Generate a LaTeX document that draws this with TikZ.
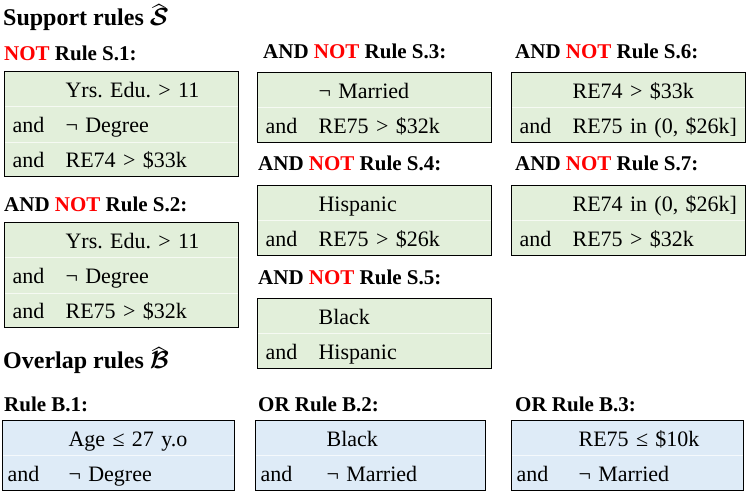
\documentclass[tikz,border=0pt]{standalone}
\usepackage{fontspec}
\setmainfont{Liberation Serif}
\usepackage{amsmath}
\usepackage{array}
\usetikzlibrary{calc}
\definecolor{rulegreen}{HTML}{E2EFDA}
\definecolor{ruleblue}{HTML}{DEEBF7}
\definecolor{notred}{HTML}{FF0000}
\newcommand{\lowhat}[1]{\rlap{\raisebox{-4pt}{\boldmath$\widehat{\phantom{\mathcal{#1}}}$}}{\boldmath$\mathcal{#1}$}}
\frenchspacing

\begin{document}
\begin{tikzpicture}[
  x=1pt, y=-1pt,
  hd/.style={anchor=base west, inner sep=0pt, font=\fontsize{24}{28}\selectfont\bfseries},
  lb/.style={anchor=base west, inner sep=0pt, font=\fontsize{21}{25}\selectfont\bfseries},
  sr/.style={draw, line width=1.2pt, fill=rulegreen, anchor=north west, inner xsep=8pt, inner ysep=0pt,
             text width=218pt, align=left, font=\fontsize{22}{29}\selectfont\setlength{\extrarowheight}{6pt}},
  br/.style={sr, fill=ruleblue, inner xsep=5pt, text width=222pt},
  rw/.style={white, line width=0.6pt, opacity=0.7}]
\useasboundingbox (0,0) rectangle (747,491);

% ---- Support rules, column 1 ----
\node[hd] (shead) at (3,25) {Support rules \lowhat{S}};
\node[lb] (ls1) at (4,60) {\textcolor{notred}{NOT} Rule S.1:};
\node[sr] (s1) at (4,71) {\begin{tabular}{@{}p{53pt}@{}l@{}}
  & Yrs. Edu. > 11\\ and & ¬ Degree\\ and & RE74 > \$33k\end{tabular}};
\node[lb] (ls2) at (4,211) {AND \textcolor{notred}{NOT} Rule S.2:};
\node[sr] (s2) at (4,222) {\begin{tabular}{@{}p{53pt}@{}l@{}}
  & Yrs. Edu. > 11\\ and & ¬ Degree\\ and & RE75 > \$32k\end{tabular}};

% ---- column 2 ----
\node[lb] (ls3) at (263,58) {AND \textcolor{notred}{NOT} Rule S.3:};
\node[sr] (s3) at (257,72) {\begin{tabular}{@{}p{53pt}@{}l@{}}
  & ¬ Married\\ and & RE75 > \$32k\end{tabular}};
\node[lb] (ls4) at (258,170) {AND \textcolor{notred}{NOT} Rule S.4:};
\node[sr] (s4) at (257,185) {\begin{tabular}{@{}p{53pt}@{}l@{}}
  & Hispanic\\ and & RE75 > \$26k\end{tabular}};
\node[lb] (ls5) at (258,284) {AND \textcolor{notred}{NOT} Rule S.5:};
\node[sr] (s5) at (257,298) {\begin{tabular}{@{}p{53pt}@{}l@{}}
  & Black\\ and & Hispanic\end{tabular}};

% ---- column 3 ----
\node[lb] (ls6) at (515,58) {AND \textcolor{notred}{NOT} Rule S.6:};
\node[sr] (s6) at (511,72) {\begin{tabular}{@{}p{53pt}@{}l@{}}
  & RE74 > \$33k\\ and & RE75 in (0, \$26k]\end{tabular}};
\node[lb] (ls7) at (515,170) {AND \textcolor{notred}{NOT} Rule S.7:};
\node[sr] (s7) at (511,185) {\begin{tabular}{@{}p{53pt}@{}l@{}}
  & RE74 in (0, \$26k]\\ and & RE75 > \$32k\end{tabular}};

% ---- Overlap rules ----
\node[hd] (bhead) at (3,368) {Overlap rules \lowhat{B}};
\node[lb] (lb1) at (4,411) {Rule B.1:};
\node[br] (b1) at (2,420) {\begin{tabular}{@{}p{61pt}@{}l@{}}
  & Age ≤ 27 y.o\\ and & ¬ Degree\end{tabular}};
\node[lb] (lb2) at (258,411) {OR Rule B.2:};
\node[br, text width=220pt] (b2) at (255,420) {\begin{tabular}{@{}p{66pt}@{}l@{}}
  & Black\\ and & ¬ Married\end{tabular}};
\node[lb] (lb3) at (515,411) {OR Rule B.3:};
\node[br] (b3) at (511,420) {\begin{tabular}{@{}p{62pt}@{}l@{}}
  & RE75 ≤ \$10k\\ and & ¬ Married\end{tabular}};

% faint row lines
\foreach \b in {s3,s4,s5,s6,s7,b1,b2,b3}
  \draw[rw] ([xshift=1pt]\b.west) -- ([xshift=-1pt]\b.east);
\foreach \b in {s1,s2} {
  \draw[rw] ($(\b.north west)!1/3!(\b.south west)+(1,0)$) -- ($(\b.north east)!1/3!(\b.south east)-(1,0)$);
  \draw[rw] ($(\b.north west)!2/3!(\b.south west)+(1,0)$) -- ($(\b.north east)!2/3!(\b.south east)-(1,0)$);
}
\end{tikzpicture}
\end{document}
